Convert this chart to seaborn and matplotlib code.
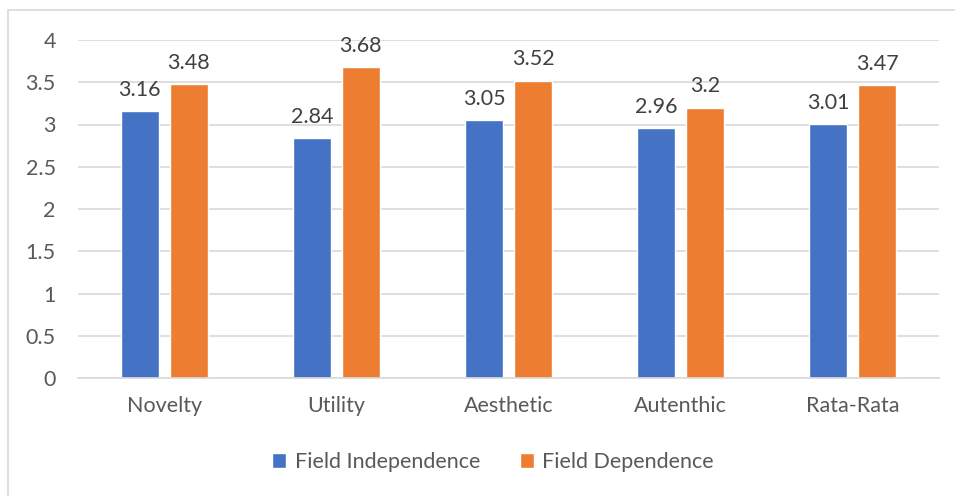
import matplotlib
matplotlib.use("Agg")
import matplotlib.pyplot as plt
import seaborn as sns
import pandas as pd
from matplotlib.patches import Rectangle

categories = ["Novelty", "Utility", "Aesthetic", "Autenthic", "Rata-Rata"]
field_independence = [3.16, 2.84, 3.05, 2.96, 3.01]
field_dependence = [3.48, 3.68, 3.52, 3.20, 3.47]
label_fi = ["3.16", "2.84", "3.05", "2.96", "3.01"]
label_fd = ["3.48", "3.68", "3.52", "3.2", "3.47"]
series = ["Field Independence", "Field Dependence"]
colors = ["#4472C4", "#ED7D31"]
yticks = [0, 0.5, 1, 1.5, 2, 2.5, 3, 3.5, 4]
ytick_labels = ["0", "0.5", "1", "1.5", "2", "2.5", "3", "3.5", "4"]

df = pd.DataFrame({
    "category": categories * 2,
    "value": field_independence + field_dependence,
    "series": [series[0]] * len(categories) + [series[1]] * len(categories),
})

sns.set_style("white")
plt.rcParams["font.family"] = ["Lato", "DejaVu Sans"]
text_color = "#595959"
fs = 15.5

W, H = 955, 496
fig = plt.figure(figsize=(W / 100, H / 100), dpi=100)
ax = fig.add_axes([78 / W, 1 - 378 / H, (939 - 78) / W, (378 - 40) / H])

sns.barplot(data=df, x="category", y="value", hue="series", palette=colors,
            width=0.57, gap=0.226, ax=ax, saturation=1, legend=False)

ax.set_ylim(0, 4)
ax.set_xlim(-0.5, len(categories) - 0.5)
ax.set_yticks(yticks)
ax.set_yticklabels(ytick_labels)
ax.yaxis.grid(True, color="#D9D9D9", linewidth=1.2)
ax.set_axisbelow(True)
for s in ["top", "right", "left"]:
    ax.spines[s].set_visible(False)
ax.spines["bottom"].set_color("#D9D9D9")
ax.spines["bottom"].set_linewidth(1.2)
ax.tick_params(axis="both", length=0, labelsize=fs, labelcolor=text_color)
ax.tick_params(axis="y", pad=16)
ax.tick_params(axis="x", pad=13)
ax.set_xlabel("")
ax.set_ylabel("")

for container, labels in zip(ax.containers, [label_fi, label_fd]):
    ax.bar_label(container, labels=labels, padding=8, fontsize=fs, color="#404040")

handles = [Rectangle((0, 0), 1, 1, facecolor=c) for c in colors]
fig.legend(handles, series, loc="center", bbox_to_anchor=(493 / W, 1 - 462 / H),
           ncol=2, frameon=False, fontsize=fs, handlelength=0.65, handleheight=0.65,
           handletextpad=0.4, columnspacing=1.85, labelcolor=text_color)

fig.patches.append(Rectangle((8 / W, -0.1), 1.2, 1 - 10 / H + 0.1,
                             transform=fig.transFigure, fill=False,
                             edgecolor="#D9D9D9", linewidth=1.2))

fig.savefig("out.png", dpi=100)
